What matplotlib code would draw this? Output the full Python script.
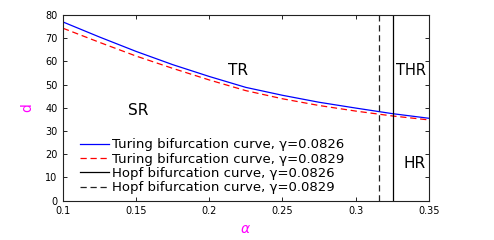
import matplotlib
matplotlib.use("Agg")
from matplotlib import pyplot as plt
import numpy as np

plt.rcParams['font.family'] = ['DejaVu Sans']
plt.rcParams['mathtext.fontset'] = 'dejavusans'

# alpha grid and curve values
alpha = [0.1, 0.125, 0.15, 0.175, 0.2, 0.225, 0.25, 0.275, 0.3, 0.325, 0.35]
d_turing_0826 = [77.0, 70.5, 64.3, 58.6, 53.5, 48.8, 45.4, 42.4, 39.9, 37.5, 35.5]
d_turing_0829 = [74.3, 68.2, 62.3, 57.0, 52.0, 47.4, 43.9, 41.0, 38.6, 36.5, 34.8]
hopf_0826 = 0.3257
hopf_0829 = 0.3159

fig = plt.figure(figsize=(4.94, 2.4), dpi=100)
ax = fig.add_axes([0.1275, 0.164, 0.7405, 0.7735])

ax.plot(alpha, d_turing_0826, color='blue', lw=0.9,
        label='Turing bifurcation curve, γ=0.0826')
ax.plot(alpha, d_turing_0829, color='red', lw=0.9, ls=(0, (5, 3)),
        label='Turing bifurcation curve, γ=0.0829')
ax.plot([hopf_0826, hopf_0826], [0, 80], color='black', lw=0.9,
        label='Hopf bifurcation curve, γ=0.0826')
ax.plot([hopf_0829, hopf_0829], [0, 80], color='#222222', lw=0.9, ls=(0, (5, 3)),
        label='Hopf bifurcation curve, γ=0.0829')

ax.set_xlim(0.1, 0.35)
ax.set_ylim(0, 80)
ax.set_xticks([0.1, 0.15, 0.2, 0.25, 0.3, 0.35])
ax.set_xticklabels(['0.1', '0.15', '0.2', '0.25', '0.3', '0.35'])
ax.set_yticks(range(0, 81, 10))
ax.tick_params(direction='in', top=True, right=True, labelsize=7, length=3, width=0.6,
               pad=4)
for s in ax.spines.values():
    s.set_linewidth(0.8)
    s.set_color('#222222')

ax.set_xlabel(r'$\alpha$', color='magenta', fontsize=10, labelpad=4)
ax.set_ylabel('d', color='magenta', fontsize=10, labelpad=8)

ax.text(0.2195, 55.9, 'TR', fontsize=11, ha='center', va='center')
ax.text(0.1512, 38.7, 'SR', fontsize=11, ha='center', va='center')
ax.text(0.3377, 56.2, 'THR', fontsize=10.5, ha='center', va='center')
ax.text(0.3401, 15.8, 'HR', fontsize=11, ha='center', va='center')

ax.legend(loc='upper left', bbox_to_anchor=(0.046, 0.335), frameon=False,
          fontsize=9.5, handlelength=2.2, handletextpad=0.25, labelspacing=0.1,
          borderpad=0, borderaxespad=0)

fig.savefig('out.png', dpi=100)
